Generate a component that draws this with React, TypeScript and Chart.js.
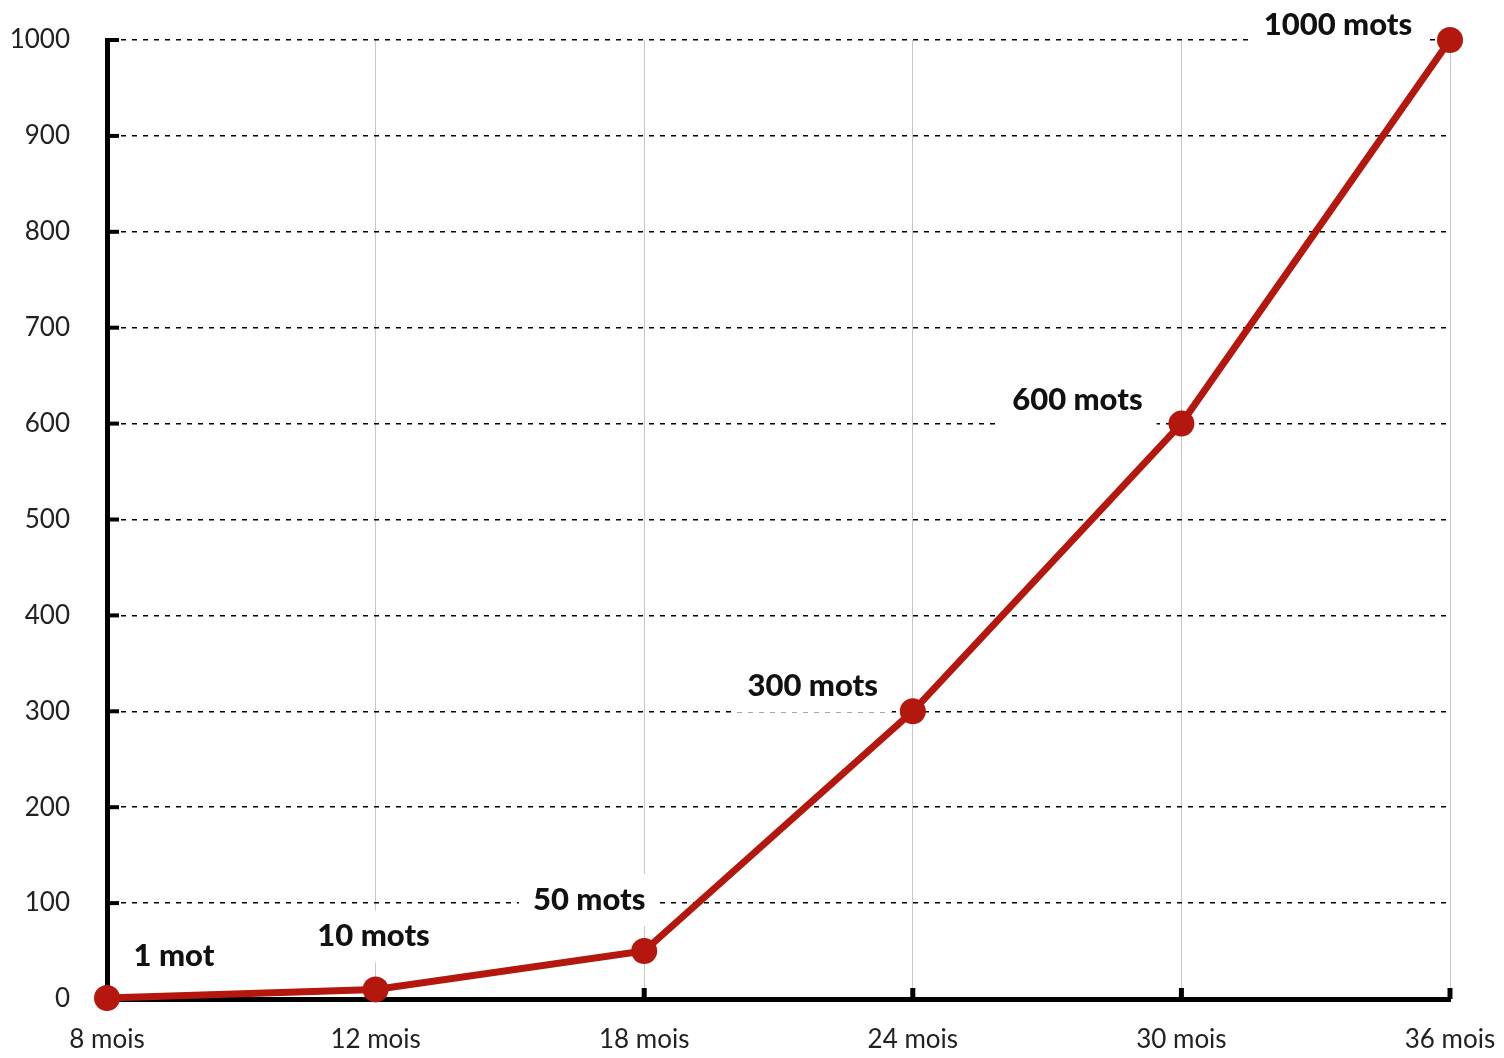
import React, { useEffect, useRef } from "react";
import { Chart, registerables } from "chart.js";

Chart.register(...registerables);

const categories = ["8 mois", "12 mois", "18 mois", "24 mois", "30 mois", "36 mois"];
const wordCounts = [1, 10, 50, 300, 600, 1000];
const pointLabels = ["1 mot", "10 mots", "50 mots", "300 mots", "600 mots", "1000 mots"];
const yTicks = [0, 100, 200, 300, 400, 500, 600, 700, 800, 900, 1000];

// label placement relative to its point (styling only)
const labelOffsets: [number, number][] = [
  [67, -42],
  [-2, -53],
  [-55, -51],
  [-100, -25],
  [-104, -24],
  [-112, -15],
];

const RED = "#b3170d";
const LABEL_FONT = "900 31px Lato";

const decorPlugin = {
  id: "decor",
  beforeDatasetsDraw(chart: any) {
    const ctx = chart.ctx;
    const { left, bottom } = chart.chartArea;
    const ys = chart.scales.y;
    const xs = chart.scales.x;
    ctx.save();
    ctx.strokeStyle = "#000";
    ctx.lineWidth = 4;
    for (const v of yTicks) {
      const py = ys.getPixelForValue(v);
      ctx.beginPath();
      ctx.moveTo(left, py);
      ctx.lineTo(left + 12, py);
      ctx.stroke();
    }
    ctx.lineWidth = 5;
    categories.forEach((_, i) => {
      const px = xs.getPixelForValue(i);
      ctx.beginPath();
      ctx.moveTo(px, bottom);
      ctx.lineTo(px, bottom - 11);
      ctx.stroke();
    });
    const meta = chart.getDatasetMeta(0);
    ctx.font = LABEL_FONT;
    ctx.fillStyle = "#fff";
    meta.data.forEach((pt: any, i: number) => {
      if (i === 0) return;
      const [dx, dy] = labelOffsets[i];
      const w = ctx.measureText(pointLabels[i]).width;
      const cx = pt.x + dx;
      const cy = pt.y + dy;
      ctx.fillRect(cx - w / 2 - 14, cy - 26, w + 28, 52);
    });
    ctx.restore();
  },
  afterDatasetsDraw(chart: any) {
    const ctx = chart.ctx;
    const meta = chart.getDatasetMeta(0);
    ctx.save();
    ctx.font = LABEL_FONT;
    ctx.fillStyle = "#111";
    ctx.textAlign = "center";
    ctx.textBaseline = "middle";
    meta.data.forEach((pt: any, i: number) => {
      const [dx, dy] = labelOffsets[i];
      ctx.fillText(pointLabels[i], pt.x + dx, pt.y + dy);
    });
    ctx.restore();
  },
};

export default function App() {
  const ref = useRef<HTMLCanvasElement>(null);
  useEffect(() => {
    document.body.style.margin = "0";
    const chart = new Chart(ref.current as HTMLCanvasElement, {
      type: "line",
      data: {
        labels: categories,
        datasets: [
          {
            data: wordCounts,
            borderColor: RED,
            backgroundColor: RED,
            borderWidth: 7,
            pointRadius: 13,
            pointHoverRadius: 13,
            pointBackgroundColor: RED,
            pointBorderColor: RED,
            pointBorderWidth: 0,
            tension: 0,
            clip: false as any,
          },
        ],
      },
      options: {
        animation: false,
        responsive: false,
        devicePixelRatio: 1,
        layout: { padding: { top: 40, right: 54, left: 0, bottom: 0 } },
        plugins: {
          legend: { display: false },
          tooltip: { enabled: false },
        },
        scales: {
          x: {
            type: "category",
            offset: false,
            grid: { color: "#c8c8c8", lineWidth: 1, drawTicks: false },
            border: { display: true, color: "#000", width: 5 },
            ticks: {
              font: { family: "Lato", size: 26 },
              color: "#222",
              padding: 25,
              maxRotation: 0,
              autoSkip: false,
            },
            afterFit: (s: any) => {
              s.height = 59;
              s.paddingLeft = 0;
              s.paddingRight = 0;
            },
          },
          y: {
            min: 0,
            max: 1000,
            grid: { color: "#000", lineWidth: 1.5, drawTicks: false },
            border: { display: true, color: "#000", width: 5, dash: [5, 6] },
            ticks: {
              stepSize: 100,
              font: { family: "Lato", size: 26 },
              color: "#222",
              padding: 37,
              callback: (v: any) => String(v),
            },
            afterFit: (s: any) => {
              s.width = 107;
              s.paddingTop = 0;
              s.paddingBottom = 0;
            },
          },
        },
      },
      plugins: [decorPlugin],
    });
    return () => chart.destroy();
  }, []);
  return (
    <div style={{ position: "absolute", left: 0, top: 0, width: 1504, height: 1058, background: "#fff" }}>
      <canvas ref={ref} width={1504} height={1058} style={{ display: "block" }} />
    </div>
  );
}
